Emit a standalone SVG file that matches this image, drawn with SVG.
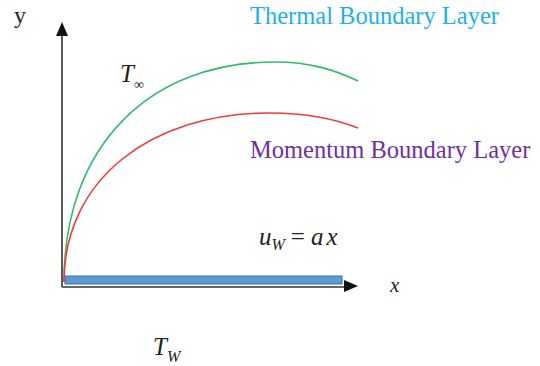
<svg xmlns="http://www.w3.org/2000/svg" width="540" height="366" viewBox="0 0 540 366">
  <style>
    .serif { font-family: "Liberation Serif", serif; }
    .math { font-family: "Liberation Serif", serif; font-style: italic; fill: #222; }
    .axis { stroke: #333; stroke-width: 1.6; fill: none; }
    .head { fill: #111; }
  </style>
  <rect width="540" height="366" fill="#fff"/>
  <g id="connectors">
    <line class="axis" x1="62" y1="287" x2="62" y2="34"/>
    <polygon class="head" points="62,22 56,36 68,36"/>
    <line class="axis" x1="62" y1="287" x2="346" y2="287"/>
    <polygon class="head" points="358,286 344,280 344,292"/>
  </g>
  <g id="plate">
    <rect x="65" y="276" width="277" height="8" fill="#5B9BD5" stroke="#41719C" stroke-width="1"/>
  </g>
  <g id="thermal-curve">
    <path d="M64,282 C64,145 150,62 275,62 C310,62 335,70 358,81" fill="none" stroke="#33BB6A" stroke-width="1.6"/>
  </g>
  <g id="momentum-curve">
    <path d="M64,282 C64,180 150,113 270,113 C305,113 335,119 358,128" fill="none" stroke="#F03C3C" stroke-width="1.6"/>
  </g>
  <g id="labels">
    <text class="serif" font-family="Liberation Serif, serif" x="14" y="23" font-size="24" fill="#222">y</text>
    <text class="math" font-family="Liberation Serif, serif" x="390" y="292" font-size="21">x</text>
    <text class="serif" font-family="Liberation Serif, serif" x="250" y="24" font-size="24.5" fill="#1DB1E8">Thermal Boundary Layer</text>
    <text class="serif" font-family="Liberation Serif, serif" x="250" y="158" font-size="24.5" fill="#7030A0">Momentum Boundary Layer</text>
    <text class="math" font-family="Liberation Serif, serif" x="120" y="82" font-size="25">T<tspan font-size="14" font-style="normal" dy="7">∞</tspan></text>
    <text class="math" font-family="Liberation Serif, serif" x="153" y="355" font-size="25">T<tspan font-size="16" dy="7">W</tspan></text>
    <text class="math" font-family="Liberation Serif, serif" x="259" y="245" font-size="25">u<tspan font-size="16" dy="5">W</tspan><tspan dy="-5" font-style="normal" dx="6">=</tspan><tspan dx="6">a</tspan><tspan dx="3">x</tspan></text>
  </g>
</svg>
